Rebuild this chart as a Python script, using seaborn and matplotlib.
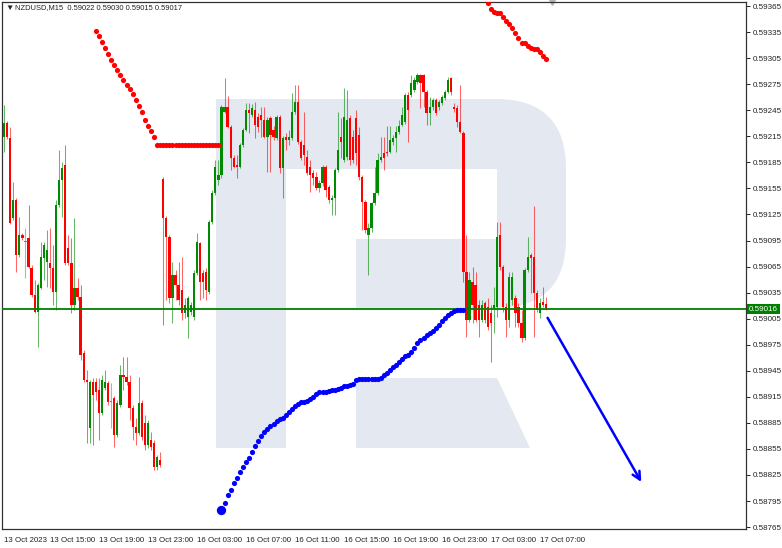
import numpy as np
import pandas as pd
import seaborn as sns
import matplotlib.pyplot as plt
from matplotlib.patches import Rectangle, Polygon, FancyBboxPatch
from matplotlib.transforms import blended_transform_factory

sns.set_style("white")
plt.rcParams['font.family'] = ['Liberation Sans', 'DejaVu Sans']

# --- NZDUSD M15 candles (bar 0 = left edge of the chart) ---
opens = [
    0.59214, 0.59230, 0.59213, 0.59121, 0.59142, 0.59078, 0.59101, 0.59093, 0.59098, 0.59063,
    0.59032, 0.59013, 0.59040, 0.59075, 0.59070, 0.59069, 0.59063, 0.59036, 0.59136, 0.59165,
    0.59182, 0.59086, 0.59069, 0.59021, 0.59040, 0.59030, 0.58966, 0.58934, 0.58879, 0.58932,
    0.58932, 0.58923, 0.58896, 0.58925, 0.58931, 0.58909, 0.58914, 0.58871, 0.58906, 0.58940,
    0.58938, 0.58932, 0.58902, 0.58880, 0.58873, 0.58908, 0.58885, 0.58860, 0.58865, 0.58862,
    0.58834, 0.58842, 0.59166, 0.59121, 0.59099, 0.59029, 0.59055, 0.59044, 0.59038, 0.59011,
    0.59007, 0.59013, 0.59007, 0.59058, 0.59092, 0.59058, 0.59059, 0.59036, 0.59116, 0.59150,
    0.59165, 0.59171, 0.59243, 0.59249, 0.59226, 0.59190, 0.59182, 0.59180, 0.59205, 0.59222,
    0.59245, 0.59240, 0.59245, 0.59237, 0.59240, 0.59234, 0.59214, 0.59236, 0.59222, 0.59213,
    0.59237, 0.59178, 0.59214, 0.59211, 0.59213, 0.59243, 0.59254, 0.59209, 0.59205, 0.59191,
    0.59180, 0.59173, 0.59168, 0.59155, 0.59161, 0.59180, 0.59157, 0.59142, 0.59144, 0.59176,
    0.59214, 0.59188, 0.59191, 0.59236, 0.59214, 0.59236, 0.59216, 0.59168, 0.59139, 0.59101,
    0.59109, 0.59138, 0.59150, 0.59188, 0.59196, 0.59197, 0.59197, 0.59209, 0.59213, 0.59220,
    0.59228, 0.59231, 0.59263, 0.59263, 0.59268, 0.59278, 0.59286, 0.59286, 0.59266, 0.59242,
    0.59249, 0.59257, 0.59249, 0.59253, 0.59259, 0.59266, 0.59282, 0.59249, 0.59248, 0.59231,
    0.59219, 0.59059, 0.59004, 0.59047, 0.59044, 0.59021, 0.59004, 0.59023, 0.59018, 0.59011,
    0.59017, 0.59018, 0.59101, 0.59064, 0.59018, 0.59004, 0.59026, 0.59029, 0.59018, 0.59000,
    0.58983, 0.59061, 0.59078, 0.59076, 0.59035, 0.59011, 0.59024, 0.59022]
highs = [
    0.59251, 0.59233, 0.59226, 0.59162, 0.59144, 0.59122, 0.59104, 0.59109, 0.59136, 0.59067,
    0.59050, 0.59046, 0.59093, 0.59093, 0.59107, 0.59109, 0.59090, 0.59142, 0.59199, 0.59185,
    0.59205, 0.59101, 0.59098, 0.59121, 0.59052, 0.59044, 0.58969, 0.58946, 0.58934, 0.58937,
    0.58937, 0.58937, 0.58940, 0.58946, 0.58933, 0.58931, 0.58916, 0.58911, 0.58952, 0.58961,
    0.58961, 0.58940, 0.58906, 0.58891, 0.58938, 0.58911, 0.58894, 0.58888, 0.58875, 0.58865,
    0.58848, 0.58852, 0.59168, 0.59123, 0.59101, 0.59070, 0.59061, 0.59070, 0.59076, 0.59029,
    0.59031, 0.59024, 0.59061, 0.59104, 0.59093, 0.59061, 0.59063, 0.59119, 0.59153, 0.59188,
    0.59188, 0.59251, 0.59282, 0.59261, 0.59228, 0.59194, 0.59194, 0.59207, 0.59225, 0.59253,
    0.59253, 0.59252, 0.59254, 0.59242, 0.59249, 0.59249, 0.59237, 0.59238, 0.59227, 0.59240,
    0.59240, 0.59215, 0.59219, 0.59222, 0.59265, 0.59274, 0.59274, 0.59211, 0.59243, 0.59199,
    0.59188, 0.59176, 0.59174, 0.59165, 0.59182, 0.59182, 0.59159, 0.59147, 0.59178, 0.59243,
    0.59236, 0.59271, 0.59268, 0.59240, 0.59222, 0.59245, 0.59226, 0.59171, 0.59142, 0.59115,
    0.59139, 0.59180, 0.59196, 0.59214, 0.59214, 0.59227, 0.59227, 0.59216, 0.59227, 0.59234,
    0.59249, 0.59265, 0.59266, 0.59286, 0.59283, 0.59288, 0.59287, 0.59287, 0.59268, 0.59260,
    0.59259, 0.59259, 0.59257, 0.59263, 0.59268, 0.59283, 0.59283, 0.59253, 0.59251, 0.59274,
    0.59221, 0.59101, 0.59059, 0.59064, 0.59059, 0.59026, 0.59026, 0.59025, 0.59029, 0.59021,
    0.59041, 0.59116, 0.59116, 0.59067, 0.59023, 0.59059, 0.59059, 0.59032, 0.59023, 0.59015,
    0.59063, 0.59099, 0.59081, 0.59135, 0.59038, 0.59029, 0.59041, 0.59030]
lows = [
    0.59197, 0.59212, 0.59114, 0.59119, 0.59059, 0.59076, 0.59096, 0.59052, 0.59063, 0.59030,
    0.59011, 0.58972, 0.59039, 0.59050, 0.59041, 0.59040, 0.59021, 0.59015, 0.59134, 0.59122,
    0.59067, 0.59067, 0.59011, 0.59015, 0.59026, 0.58957, 0.58932, 0.58862, 0.58862, 0.58860,
    0.58911, 0.58865, 0.58894, 0.58923, 0.58906, 0.58879, 0.58857, 0.58869, 0.58903, 0.58923,
    0.58929, 0.58888, 0.58865, 0.58860, 0.58871, 0.58865, 0.58854, 0.58856, 0.58854, 0.58831,
    0.58831, 0.58834, 0.58998, 0.59026, 0.59023, 0.59000, 0.59026, 0.59021, 0.59003, 0.59006,
    0.58983, 0.59009, 0.59003, 0.59055, 0.59026, 0.59029, 0.59026, 0.59033, 0.59114, 0.59147,
    0.59159, 0.59167, 0.59242, 0.59225, 0.59176, 0.59178, 0.59167, 0.59178, 0.59203, 0.59221,
    0.59219, 0.59237, 0.59213, 0.59220, 0.59214, 0.59213, 0.59174, 0.59174, 0.59211, 0.59211,
    0.59173, 0.59144, 0.59199, 0.59205, 0.59211, 0.59241, 0.59206, 0.59188, 0.59182, 0.59171,
    0.59151, 0.59159, 0.59153, 0.59151, 0.59158, 0.59145, 0.59138, 0.59124, 0.59124, 0.59174,
    0.59190, 0.59185, 0.59188, 0.59182, 0.59184, 0.59182, 0.59165, 0.59107, 0.59104, 0.59055,
    0.59105, 0.59136, 0.59147, 0.59185, 0.59176, 0.59192, 0.59196, 0.59205, 0.59197, 0.59218,
    0.59227, 0.59229, 0.59209, 0.59260, 0.59266, 0.59275, 0.59248, 0.59249, 0.59228, 0.59228,
    0.59245, 0.59240, 0.59245, 0.59251, 0.59257, 0.59265, 0.59263, 0.59243, 0.59226, 0.59219,
    0.59047, 0.58984, 0.59001, 0.59000, 0.59001, 0.58984, 0.59001, 0.59000, 0.58992, 0.58955,
    0.58988, 0.59007, 0.59061, 0.59013, 0.58984, 0.58995, 0.59021, 0.58995, 0.58995, 0.58978,
    0.58980, 0.59059, 0.59035, 0.58984, 0.59013, 0.59006, 0.59018, 0.59015]
closes = [
    0.59230, 0.59214, 0.59115, 0.59142, 0.59078, 0.59101, 0.59098, 0.59093, 0.59064, 0.59032,
    0.59013, 0.59044, 0.59076, 0.59090, 0.59084, 0.59063, 0.59036, 0.59136, 0.59165, 0.59178,
    0.59069, 0.59069, 0.59021, 0.59040, 0.59030, 0.58963, 0.58934, 0.58932, 0.58932, 0.58917,
    0.58921, 0.58896, 0.58934, 0.58932, 0.58909, 0.58909, 0.58871, 0.58908, 0.58940, 0.58938,
    0.58932, 0.58902, 0.58880, 0.58873, 0.58908, 0.58869, 0.58860, 0.58885, 0.58857, 0.58834,
    0.58846, 0.58837, 0.59121, 0.59099, 0.59029, 0.59055, 0.59044, 0.59026, 0.59011, 0.59021,
    0.59029, 0.59021, 0.59058, 0.59093, 0.59047, 0.59047, 0.59038, 0.59116, 0.59150, 0.59180,
    0.59171, 0.59249, 0.59249, 0.59226, 0.59190, 0.59180, 0.59180, 0.59205, 0.59222, 0.59245,
    0.59242, 0.59248, 0.59228, 0.59226, 0.59234, 0.59214, 0.59234, 0.59216, 0.59214, 0.59237,
    0.59178, 0.59213, 0.59211, 0.59214, 0.59243, 0.59254, 0.59209, 0.59190, 0.59194, 0.59173,
    0.59171, 0.59167, 0.59155, 0.59161, 0.59180, 0.59153, 0.59142, 0.59144, 0.59176, 0.59199,
    0.59209, 0.59237, 0.59234, 0.59188, 0.59188, 0.59196, 0.59168, 0.59139, 0.59107, 0.59109,
    0.59138, 0.59150, 0.59188, 0.59191, 0.59190, 0.59196, 0.59211, 0.59213, 0.59220, 0.59227,
    0.59240, 0.59263, 0.59245, 0.59276, 0.59280, 0.59286, 0.59276, 0.59266, 0.59242, 0.59249,
    0.59257, 0.59242, 0.59254, 0.59260, 0.59266, 0.59280, 0.59266, 0.59246, 0.59231, 0.59220,
    0.59059, 0.59004, 0.59050, 0.59021, 0.59004, 0.59004, 0.59021, 0.59004, 0.58995, 0.59000,
    0.59021, 0.59099, 0.59064, 0.59018, 0.59004, 0.59053, 0.59053, 0.59011, 0.59000, 0.58983,
    0.59061, 0.59076, 0.59075, 0.59035, 0.59015, 0.59023, 0.59021, 0.59017]

# --- indicator dots (parabolic SAR style) ---
sar_red_left_start = 30
sar_red_left = [
    0.59336, 0.59330, 0.59324, 0.59317, 0.59310, 0.59303, 0.59297, 0.59291, 0.59286, 0.59280,
    0.59274, 0.59269, 0.59264, 0.59257, 0.59250, 0.59243, 0.59234, 0.59227, 0.59221, 0.59214,
    0.59205, 0.59205, 0.59205, 0.59205, 0.59205, 0.59205, 0.59205, 0.59205, 0.59205, 0.59205,
    0.59205, 0.59205, 0.59205, 0.59205, 0.59205, 0.59205, 0.59205, 0.59205, 0.59205, 0.59205,
    0.59205]
sar_blue_start = 71
sar_blue = [
    0.58785, 0.58793, 0.58802, 0.58808, 0.58816, 0.58822, 0.58828, 0.58834, 0.58840, 0.58845,
    0.58851, 0.58858, 0.58864, 0.58870, 0.58874, 0.58878, 0.58881, 0.58884, 0.58887, 0.58889,
    0.58891, 0.58894, 0.58897, 0.58901, 0.58904, 0.58907, 0.58909, 0.58909, 0.58910, 0.58912,
    0.58915, 0.58918, 0.58920, 0.58920, 0.58921, 0.58922, 0.58923, 0.58923, 0.58924, 0.58925,
    0.58927, 0.58927, 0.58929, 0.58930, 0.58934, 0.58935, 0.58935, 0.58935, 0.58935, 0.58935,
    0.58935, 0.58935, 0.58937, 0.58940, 0.58943, 0.58946, 0.58949, 0.58952, 0.58955, 0.58958,
    0.58962, 0.58963, 0.58967, 0.58971, 0.58977, 0.58980, 0.58983, 0.58986, 0.58988, 0.58991,
    0.58994, 0.58998, 0.59002, 0.59006, 0.59009, 0.59012, 0.59014, 0.59015, 0.59015, 0.59015]
sar_red_right_start = 158
sar_red_right = [
    0.59368, 0.59362, 0.59358, 0.59357, 0.59357, 0.59353, 0.59348, 0.59344, 0.59340, 0.59334,
    0.59328, 0.59323, 0.59322, 0.59319, 0.59317, 0.59316, 0.59315, 0.59312, 0.59308, 0.59304]

level_price = 0.59016
forecast_x = [177.5, 208.1]
forecast_y = [0.59006, 0.58817]

x_ticks = [0, 15, 31, 47, 63, 79, 95, 111, 127, 143, 159, 175]
x_labels = ['13 Oct 2023', '13 Oct 15:00', '13 Oct 19:00', '13 Oct 23:00',
            '16 Oct 03:00', '16 Oct 07:00', '16 Oct 11:00', '16 Oct 15:00',
            '16 Oct 19:00', '16 Oct 23:00', '17 Oct 03:00', '17 Oct 07:00']
y_ticks = [0.58765, 0.58795, 0.58825, 0.58855, 0.58885, 0.58915, 0.58945, 0.58975,
           0.59005, 0.59035, 0.59065, 0.59095, 0.59125, 0.59155, 0.59185, 0.59215,
           0.59245, 0.59275, 0.59305, 0.59335, 0.59365]

BULL, BEAR, DOJI = '#008a00', '#ff0000', '#808080'
WM = '#e3e8f1'

fig = plt.figure(figsize=(7.82, 5.48), dpi=100, facecolor='white')

# background layer (pixel coordinates) for the "R" watermark
bg = fig.add_axes([0, 0, 1, 1], zorder=0)
bg.set_xlim(0, 782)
bg.set_ylim(548, 0)
bg.axis('off')
bg.add_patch(FancyBboxPatch((216, 99), 350, 209, boxstyle="round,pad=0,rounding_size=70",
                            fc=WM, ec='none'))
bg.add_patch(Rectangle((216, 99), 100, 209, fc=WM, ec='none'))
bg.add_patch(Rectangle((286, 169), 211, 70, fc='white', ec='none'))
bg.add_patch(Rectangle((286, 239), 70, 69, fc='white', ec='none'))
bg.add_patch(Rectangle((216, 99), 70, 349, fc=WM, ec='none'))
bg.add_patch(Polygon([(356, 378), (497, 378), (530, 448), (356, 448)], fc=WM, ec='none'))

ax = fig.add_axes([2 / 782, 19 / 548, 744 / 782, 527 / 548], zorder=1)
ax.patch.set_alpha(0)

df = pd.DataFrame({'open': opens, 'high': highs, 'low': lows, 'close': closes})
df['bar'] = np.arange(len(df))
df['color'] = np.where(df.close > df.open, BULL, np.where(df.close < df.open, BEAR, DOJI))
body_low = df[['open', 'close']].min(axis=1)
body_h = (df.close - df.open).abs().clip(lower=0.000012)

ax.vlines(df.bar, df.low, df.high, colors=df.color, lw=0.75, alpha=0.6, zorder=2)
ax.bar(df.bar, body_h, bottom=body_low, width=0.74, color=df.color, linewidth=0, zorder=3)

ax.axhline(level_price, color='#008000', lw=1.3, zorder=4)

sns.scatterplot(x=np.arange(sar_red_left_start, sar_red_left_start + len(sar_red_left)),
                y=sar_red_left, color='#ff0000', s=14, linewidth=0, ax=ax, zorder=5)
sns.scatterplot(x=np.arange(sar_blue_start, sar_blue_start + len(sar_blue)),
                y=sar_blue, color='#0000ff', s=14, linewidth=0, ax=ax, zorder=5)
sns.scatterplot(x=np.arange(sar_red_right_start, sar_red_right_start + len(sar_red_right)),
                y=sar_red_right, color='#ff0000', s=14, linewidth=0, ax=ax, zorder=5)
ax.scatter([sar_blue_start], [sar_blue[0]], s=45, color='#0000ff', linewidth=0, zorder=6)

ax.annotate('', xy=(forecast_x[1], forecast_y[1]), xytext=(forecast_x[0], forecast_y[0]),
            arrowprops=dict(arrowstyle='->', color='#0000ff', lw=1.8, mutation_scale=14,
                            shrinkA=0, shrinkB=0), zorder=6)

ax.set_xlim(-0.67, 242.3)
ax.set_ylim(0.587628, 0.593697)

ax.yaxis.tick_right()
ax.set_yticks(y_ticks)
ax.set_yticklabels([f"{v:.5f}" for v in y_ticks])
ax.tick_params(axis='y', direction='out', length=3, width=0.7, pad=1.5, labelsize=5.8,
               colors='#222222', right=True, left=False)
ax.set_xticks(x_ticks)
ax.set_xticklabels(x_labels)
ax.tick_params(axis='x', direction='out', length=4, width=0.7, pad=1.5, labelsize=5.7,
               colors='#222222')
for lab in ax.get_xticklabels():
    lab.set_horizontalalignment('left')
for s in ax.spines.values():
    s.set_visible(True)
    s.set_color('#333333')
    s.set_linewidth(0.9)

trans = blended_transform_factory(ax.transAxes, ax.transData)
ax.text(1.004, level_price, f"{level_price:.5f}", transform=trans, ha='left', va='center',
        fontsize=5.8, color='white', clip_on=False, zorder=7,
        bbox=dict(boxstyle='square,pad=0.22', fc='#008000', ec='none'))

# chart-shift marker at the top
ax.plot([179], [1.0], marker='v', color='#b4b4b4', ms=4.5,
        transform=blended_transform_factory(ax.transData, ax.transAxes), clip_on=False)

# header line
fig.text(5 / 782, 1 - 8 / 548, "\u25bc", fontsize=6, va='center', ha='left', color='#222222')
fig.text(15 / 782, 1 - 8 / 548,
         f"NZDUSD,M15  {opens[-1]:.5f} {highs[-1]:.5f} {lows[-1]:.5f} {closes[-1]:.5f}",
         fontsize=5.4, va='center', ha='left', color='#222222')

fig.savefig('out.png', dpi=100)
